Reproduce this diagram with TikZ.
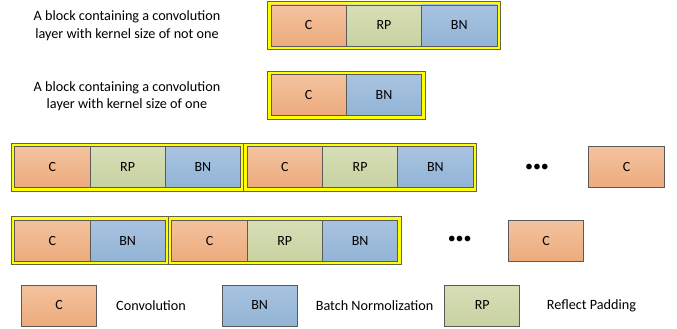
\documentclass[tikz,border=0pt]{standalone}
\usepackage{fontspec}
\setmainfont{Carlito}
\usetikzlibrary{positioning,fit,backgrounds}
\definecolor{convtop}{RGB}{244,194,158}
\definecolor{convbot}{RGB}{236,171,124}
\definecolor{padtop}{RGB}{215,222,183}
\definecolor{padbot}{RGB}{200,210,160}
\definecolor{normtop}{RGB}{168,195,224}
\definecolor{normbot}{RGB}{146,180,214}
\definecolor{cellgray}{RGB}{90,90,90}
\definecolor{framegray}{RGB}{100,100,70}
\definecolor{frameyellow}{RGB}{255,255,0}

\tikzset{
  cell/.style={draw=cellgray, line width=0.8pt, minimum width=75.3pt, minimum height=41pt,
               inner sep=0pt, outer sep=0pt, font=\fontsize{14}{16}\selectfont},
  conv/.style={cell, top color=convtop, bottom color=convbot},
  rpad/.style={cell, top color=padtop, bottom color=padbot},
  bnorm/.style={cell, top color=normtop, bottom color=normbot},
  blockframe/.style={draw=framegray, fill=frameyellow, line width=0.7pt, inner sep=3.4pt},
  desc/.style={align=center, font=\fontsize{14.2}{17.5}\selectfont},
  legtext/.style={anchor=west, font=\fontsize{14.2}{17}\selectfont},
  dots/.style={font=\fontsize{16}{16}\selectfont}
}

\begin{document}
\begin{tikzpicture}[x=1pt, y=-1pt]
  \useasboundingbox (0,0) rectangle (677,329);

  \node[desc] (txtA) at (127,25.5) {A block containing a convolution\\layer with kernel size of not one};
  \node[conv] (aC) at (308.7,25.5) {C};
  \node[rpad, right=0pt of aC] (aRP) {RP};
  \node[bnorm, right=0pt of aRP] (aBN) {BN};

  \node[desc] (txtB) at (127,96) {A block containing a convolution\\layer with kernel size of one};
  \node[conv] (bC) at (308.7,95.3) {C};
  \node[bnorm, right=0pt of bC] (bBN) {BN};

  \node[conv] (cC1) at (52.3,167.2) {C};
  \node[rpad, right=0pt of cC1] (cRP1) {RP};
  \node[bnorm, right=0pt of cRP1] (cBN1) {BN};
  \node[conv, right=6.6pt of cBN1] (cC2) {C};
  \node[rpad, right=0pt of cC2] (cRP2) {RP};
  \node[bnorm, right=0pt of cRP2] (cBN2) {BN};
  \node[dots] (cdots) at (537,167.5) {•••};
  \node[conv] (cEnd) at (626.5,167.2) {C};

  \node[conv] (dC1) at (52.3,240.7) {C};
  \node[bnorm, right=0pt of dC1] (dBN1) {BN};
  \node[conv, right=6.6pt of dBN1] (dC2) {C};
  \node[rpad, right=0pt of dC2] (dRP2) {RP};
  \node[bnorm, right=0pt of dRP2] (dBN2) {BN};
  \node[dots] (ddots) at (459.7,240.2) {•••};
  \node[conv] (dEnd) at (546.2,240.7) {C};

  \begin{scope}[on background layer]
    \node[blockframe, fit=(aC)(aBN)] (frameA) {};
    \node[blockframe, fit=(bC)(bBN)] (frameB) {};
    \node[blockframe, fit=(cC1)(cBN1)] (frameC1) {};
    \node[blockframe, fit=(cC2)(cBN2)] (frameC2) {};
    \node[blockframe, fit=(dC1)(dBN1)] (frameD1) {};
    \node[blockframe, fit=(dC2)(dBN2)] (frameD2) {};
  \end{scope}

  \node[conv] (legC) at (59.2,305.5) {C};
  \node[legtext] (legCtxt) at (112.7,306) {Convolution};
  \node[bnorm] (legBN) at (259.7,305.5) {BN};
  \node[legtext] (legBNtxt) at (312.3,306) {Batch Normolization};
  \node[rpad] (legRP) at (482.2,305.5) {RP};
  \node[legtext] (legRPtxt) at (543.3,306) {Reflect Padding};
\end{tikzpicture}
\end{document}
